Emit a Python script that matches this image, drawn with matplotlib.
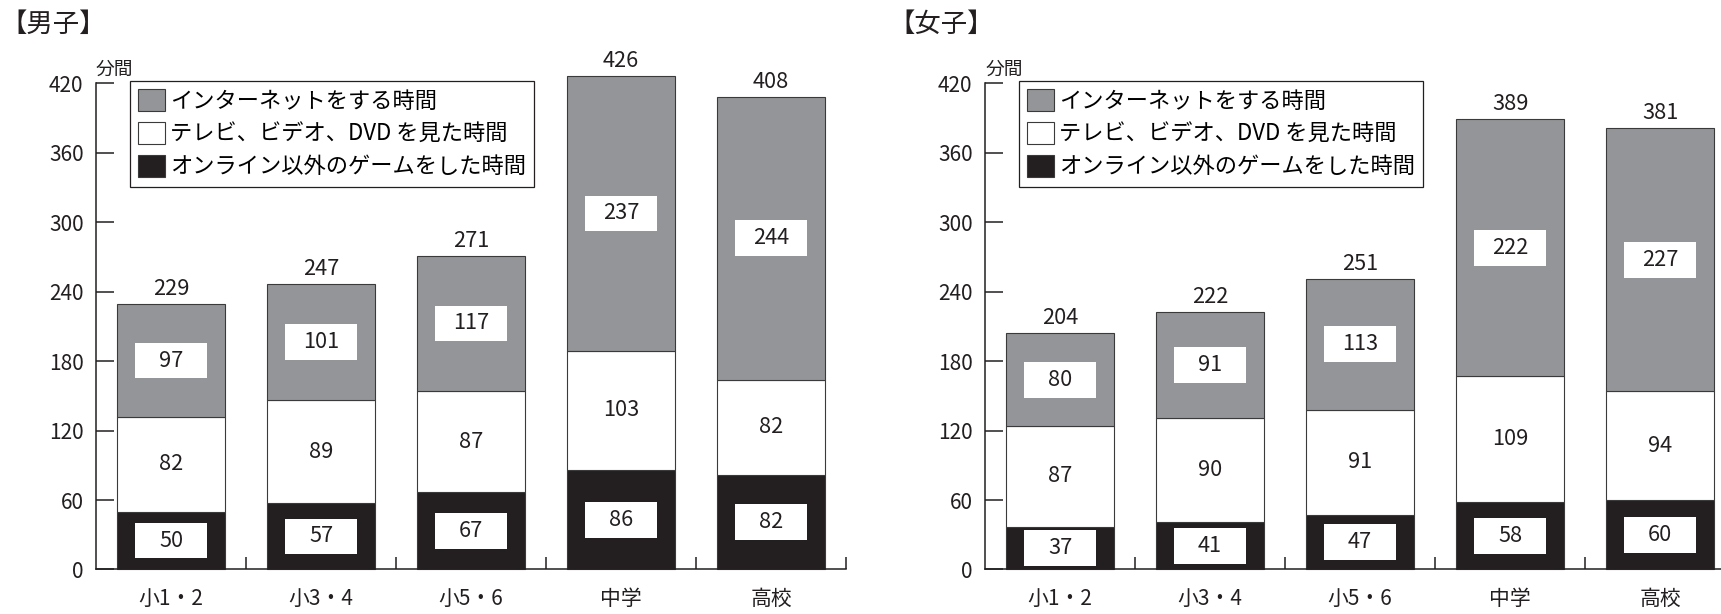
import matplotlib
matplotlib.use('Agg')
import matplotlib.pyplot as plt
from matplotlib.patches import Patch
import numpy as np

plt.rcParams['font.family'] = ['Noto Sans CJK JP', 'DejaVu Sans']

# 平日1日あたりの時間（分）
categories = ['小1・2', '小3・4', '小5・6', '中学', '高校']
series_names = ['インターネットをする時間', 'テレビ、ビデオ、DVD を見た時間', 'オンライン以外のゲームをした時間']

boys_game = [50, 57, 67, 86, 82]
boys_tv = [82, 89, 87, 103, 82]
boys_net = [97, 101, 117, 237, 244]

girls_game = [37, 41, 47, 58, 60]
girls_tv = [87, 90, 91, 109, 94]
girls_net = [80, 91, 113, 222, 227]

yticks = [0, 60, 120, 180, 240, 300, 360, 420]

GRAY = '#939598'
BLACK = '#231f20'
EDGE = '#3a3a3a'
BAR_W = 0.72
BOX_W = 0.48     # label box width (x data units)
BOX_H = 31       # label box height (minutes)


def label_box(ax, x, y, value):
    ax.add_patch(plt.Rectangle((x - BOX_W / 2, y - BOX_H / 2), BOX_W, BOX_H,
                               facecolor='white', edgecolor='none', zorder=4))
    ax.text(x, y, str(value), ha='center', va='center', fontsize=15.7,
            color='#231f20', zorder=5)


def draw_panel(ax, game, tv, net):
    x = np.arange(len(categories))
    game = np.array(game)
    tv = np.array(tv)
    net = np.array(net)

    ax.bar(x, game, BAR_W, color=BLACK, edgecolor=EDGE, linewidth=0.8, clip_on=False, zorder=2)
    ax.bar(x, tv, BAR_W, bottom=game, color='white', edgecolor=EDGE, linewidth=0.8, clip_on=False, zorder=2)
    ax.bar(x, net, BAR_W, bottom=game + tv, color=GRAY, edgecolor=EDGE, linewidth=0.8, clip_on=False, zorder=2)

    total = game + tv + net
    for i in range(len(x)):
        label_box(ax, x[i], game[i] / 2, game[i])
        ax.text(x[i], game[i] + tv[i] / 2, str(tv[i]), ha='center', va='center',
                fontsize=15.7, color='#231f20', zorder=5)
        label_box(ax, x[i], game[i] + tv[i] + net[i] / 2, net[i])
        ax.annotate(str(total[i]), (x[i], total[i]), xytext=(0, 6.5),
                    textcoords='offset points', ha='center', va='baseline',
                    fontsize=15.7, color='#231f20', annotation_clip=False)

    ax.set_xlim(-0.5, len(categories) - 0.5)
    ax.set_ylim(0, 420)
    ax.set_yticks(yticks)
    ax.set_xticks(x)
    ax.set_xticklabels(categories)
    ax.set_xticks(x + 0.5, minor=True)

    for s in ['top', 'right']:
        ax.spines[s].set_visible(False)
    for s in ['left', 'bottom']:
        ax.spines[s].set_linewidth(1.1)
        ax.spines[s].set_color('#231f20')

    ax.tick_params(axis='y', direction='in', length=12.7, width=1.1, pad=9,
                   labelsize=15, colors='#231f20')
    ax.tick_params(axis='x', which='major', length=0, pad=13, labelsize=15,
                   colors='#231f20')
    ax.tick_params(axis='x', which='minor', direction='in', length=8.4, width=1.1,
                   colors='#231f20')

    ax.annotate('分間', (0, 1), xycoords='axes fraction', xytext=(0, 10),
                textcoords='offset points', ha='left', va='center', fontsize=13.5,
                color='#231f20')

    handles = [Patch(facecolor=GRAY, edgecolor=EDGE, linewidth=0.8),
               Patch(facecolor='white', edgecolor=EDGE, linewidth=0.8),
               Patch(facecolor=BLACK, edgecolor=EDGE, linewidth=0.8)]
    leg = ax.legend(handles, series_names, loc='upper left', bbox_to_anchor=(0.045, 1.005),
                    borderaxespad=0, fontsize=16, handlelength=1.2, handleheight=1.15,
                    handletextpad=0.23, labelspacing=0.42, borderpad=0.37,
                    fancybox=False, framealpha=1, edgecolor='#231f20')
    leg.get_frame().set_linewidth(0.9)
    leg.set_zorder(6)


fig = plt.figure(figsize=(17.21, 6.14), dpi=100)
ax_boys = fig.add_axes([0.0558, 0.0725, 0.4358, 0.7919])
ax_girls = fig.add_axes([0.5724, 0.0725, 0.4358, 0.7919])

draw_panel(ax_boys, boys_game, boys_tv, boys_net)
draw_panel(ax_girls, girls_game, girls_tv, girls_net)

fig.text(0.0, 0.96, '【男子】', fontsize=19, va='center', ha='left', color='#231f20')
fig.text(0.516, 0.96, '【女子】', fontsize=19, va='center', ha='left', color='#231f20')

fig.savefig('out.png', dpi=100)
